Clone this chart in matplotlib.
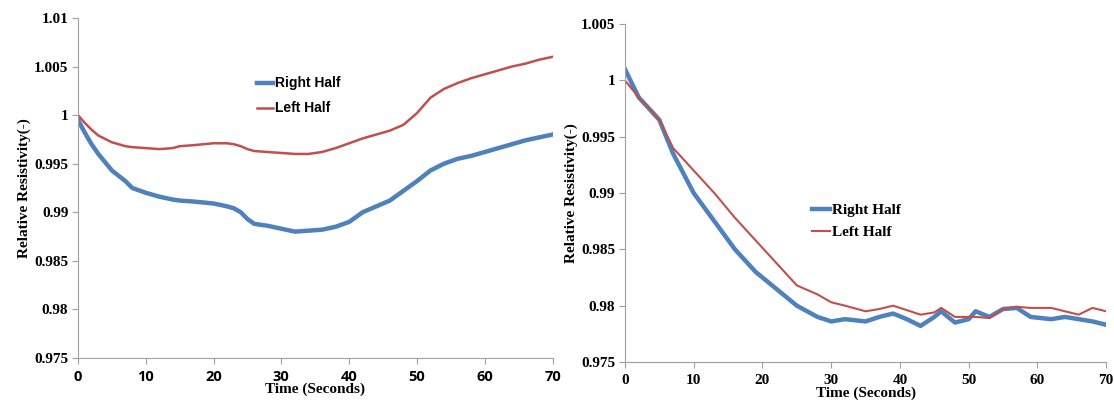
import matplotlib
matplotlib.use("Agg")
import matplotlib.pyplot as plt

# left chart
t_left = [0, 1, 2, 3, 5, 7, 8, 10, 12, 14, 15, 17, 20, 22, 23, 24, 25, 26, 28, 30, 32, 34, 36, 38, 40,
          42, 44, 46, 48, 50, 52, 54, 56, 58, 60, 62, 64, 66, 68, 70]
right_left = [0.9995, 0.9982, 0.9970, 0.9960, 0.9943, 0.9932, 0.9925, 0.9920, 0.9916, 0.9913, 0.9912,
              0.9911, 0.9909, 0.9906, 0.9904, 0.9900, 0.9893, 0.9888, 0.9886, 0.9883, 0.9880, 0.9881,
              0.9882, 0.9885, 0.9890, 0.9900, 0.9906, 0.9912, 0.9922, 0.9932, 0.9943, 0.9950, 0.9955,
              0.9958, 0.9962, 0.9966, 0.9970, 0.9974, 0.9977, 0.9980]
left_left = [1.0000, 0.9992, 0.9985, 0.9979, 0.9972, 0.9968, 0.9967, 0.9966, 0.9965, 0.9966, 0.9968,
             0.9969, 0.9971, 0.9971, 0.9970, 0.9968, 0.9965, 0.9963, 0.9962, 0.9961, 0.9960, 0.9960,
             0.9962, 0.9966, 0.9971, 0.9976, 0.9980, 0.9984, 0.9990, 1.0002, 1.0018, 1.0027, 1.0033,
             1.0038, 1.0042, 1.0046, 1.0050, 1.0053, 1.0057, 1.0060]

# right chart
t_right = [0, 2, 5, 7, 10, 13, 16, 19, 22, 25, 28, 30, 32, 35, 37, 39, 41, 43, 45, 46, 48, 50, 51,
           53, 55, 57, 59, 62, 64, 66, 68, 70]
right_right = [1.0010, 0.9985, 0.9965, 0.9935, 0.9900, 0.9875, 0.9850, 0.9830, 0.9815, 0.9800, 0.9790,
               0.9786, 0.9788, 0.9786, 0.9790, 0.9793, 0.9788, 0.9782, 0.9790, 0.9795, 0.9785, 0.9788,
               0.9795, 0.9790, 0.9797, 0.9798, 0.9790, 0.9788, 0.9790, 0.9788, 0.9786, 0.9783]
left_right = [1.0000, 0.9985, 0.9965, 0.9940, 0.9920, 0.9900, 0.9878, 0.9858, 0.9838, 0.9818, 0.9810,
              0.9803, 0.9800, 0.9795, 0.9797, 0.9800, 0.9796, 0.9792, 0.9794, 0.9798, 0.9790, 0.9790,
              0.9790, 0.9789, 0.9797, 0.9799, 0.9798, 0.9798, 0.9795, 0.9792, 0.9798, 0.9795]

blue = "#4F81BD"
red = "#C0504D"
serif = "Liberation Serif"
sans = "Open Sans"

fig = plt.figure(figsize=(11.14, 4.09), dpi=100)
ax1 = fig.add_axes([0.070, 0.125, 0.426, 0.831])
ax2 = fig.add_axes([0.561, 0.115, 0.432, 0.826])


def style(ax, ymin, ymax, yticks, ylabels, xfont):
    ax.set_xlim(0, 70)
    ax.set_ylim(ymin, ymax)
    ax.set_xticks(range(0, 71, 10))
    ax.set_yticks(yticks)
    ax.set_yticklabels(ylabels)
    for s in ["top", "right"]:
        ax.spines[s].set_visible(False)
    for s in ["left", "bottom"]:
        ax.spines[s].set_color("#a0a0a0")
    ax.tick_params(direction="out", length=4, color="#a0a0a0", pad=3)
    ax.tick_params(axis="x", pad=5)
    for lab in ax.get_yticklabels():
        lab.set_fontfamily(serif)
        lab.set_fontweight("bold")
        lab.set_fontsize(11)
    for lab in ax.get_xticklabels():
        lab.set_fontfamily(xfont)
        lab.set_fontweight("bold")
        lab.set_fontsize(11 if xfont == serif else 10.5)
    ax.set_xlabel("Time (Seconds)", fontfamily=serif, fontweight="bold", fontsize=11, labelpad=-1)
    ax.set_ylabel("Relative Resistivity(-)", fontfamily=serif, fontweight="bold", fontsize=11, labelpad=2)


ax1.plot(t_left, right_left, color=blue, lw=3.2, label="Right Half")
ax1.plot(t_left, left_left, color=red, lw=1.8, label="Left Half")
style(ax1, 0.975, 1.01, [0.975, 0.98, 0.985, 0.99, 0.995, 1.0, 1.005, 1.01],
      ["0.975", "0.98", "0.985", "0.99", "0.995", "1", "1.005", "1.01"], sans)
ax1.legend(loc="upper left", bbox_to_anchor=(0.35, 0.865), frameon=False, handlelength=1.2,
           handletextpad=0.1, labelspacing=0.8,
           prop={"family": "Liberation Sans", "weight": "bold", "size": 10})

ax2.plot(t_right, right_right, color=blue, lw=3.2, label="Right Half")
ax2.plot(t_right, left_right, color=red, lw=1.5, label="Left Half")
style(ax2, 0.975, 1.005, [0.975, 0.98, 0.985, 0.99, 0.995, 1.0, 1.005],
      ["0.975", "0.98", "0.985", "0.99", "0.995", "1", "1.005"], serif)
ax2.legend(loc="upper left", bbox_to_anchor=(0.36, 0.51), frameon=False, handlelength=1.2,
           handletextpad=0.1, labelspacing=0.55,
           prop={"family": serif, "weight": "bold", "size": 11})

fig.savefig("out.png", dpi=100)
